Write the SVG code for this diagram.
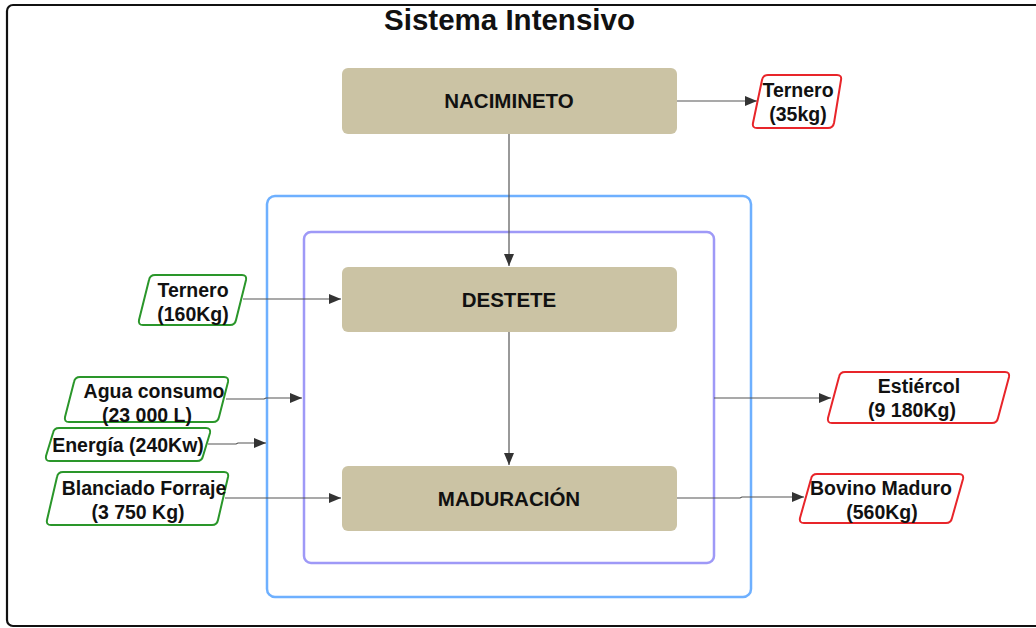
<svg xmlns="http://www.w3.org/2000/svg" width="1036" height="628" viewBox="0 0 1036 628">
<style>
text{font-family:"Liberation Sans",Arial,sans-serif;font-weight:bold;fill:#111;text-anchor:middle}
.proc{fill:#CBC3A4}
.in{fill:#fff;stroke:#2A962A;stroke-width:2;stroke-linejoin:round}
.out{fill:#fff;stroke:#E8252A;stroke-width:2;stroke-linejoin:round}
.lbl{font-size:20.5px}
.pl{font-size:19.5px}
.c{fill:none;stroke:#555;stroke-width:1.2}
</style>
<defs>
<marker id="ah" markerWidth="12" markerHeight="10" refX="12" refY="5" orient="auto" markerUnits="userSpaceOnUse">
<path d="M0,0 L12,5 L0,10 Z" fill="#333"/>
</marker>
</defs>
<rect x="7" y="5" width="1040" height="621" rx="6" fill="#fff" stroke="#111" stroke-width="2.2"/>
<text x="509.5" y="30" style="font-size:29.5px">Sistema Intensivo</text>
<g id="outer-box"><rect x="267" y="196" width="484" height="401" rx="8" fill="none" stroke="#6EB0FF" stroke-width="2.5"/></g>
<g id="inner-box"><rect x="304" y="232" width="410" height="331" rx="7" fill="none" stroke="#9E99F7" stroke-width="2.5"/></g>
<g id="connectors">
<path class="c" d="M509,134 V266" marker-end="url(#ah)"/>
<path class="c" d="M509,332 V465" marker-end="url(#ah)"/>
<path class="c" d="M677,101 H757" marker-end="url(#ah)"/>
<path class="c" d="M243,299 H341" marker-end="url(#ah)"/>
<path class="c" d="M226,399 H264 L266,398 H302" marker-end="url(#ah)"/>
<path class="c" d="M208,444 H236 L238,443 H266" marker-end="url(#ah)"/>
<path class="c" d="M225,498 H341" marker-end="url(#ah)"/>
<path class="c" d="M714,398 H831" marker-end="url(#ah)"/>
<path class="c" d="M677,498 H740 L742,497 H804" marker-end="url(#ah)"/>
</g>
<g id="nacimiento"><rect class="proc" x="342" y="68" width="335" height="66" rx="6"/><text class="lbl" x="509" y="108">NACIMINETO</text></g>
<g id="destete"><rect class="proc" x="342" y="267" width="335" height="65" rx="6"/><text class="lbl" x="509" y="307">DESTETE</text></g>
<g id="maduracion"><rect class="proc" x="342" y="466" width="335" height="65" rx="6"/><text class="lbl" x="509" y="506">MADURACIÓN</text></g>
<g id="ternero-35"><path class="out" d="M768,75 H837 Q842,75 841,80 L834,123 Q833,128 828,128 H757 Q752,128 753,123 L762,80 Q763,75 768,75 Z"/><text class="pl" x="798" y="97">Ternero</text><text class="pl" x="798" y="121">(35kg)</text></g>
<g id="ternero-160"><path class="in" d="M155,275 H242 Q247,275 246,280 L236,320 Q235,325 230,325 H143 Q138,325 139,320 L149,280 Q150,275 155,275 Z"/><text class="pl" x="193" y="297">Ternero</text><text class="pl" x="193" y="321">(160Kg)</text></g>
<g id="agua"><path class="in" d="M80,377 H224 Q229,377 228,382 L219,417 Q218,422 213,422 H69 Q64,422 65,417 L74,382 Q75,377 80,377 Z"/><text class="pl" x="154" y="398">Agua consumo</text><text class="pl" x="147" y="422">(23 000 L)</text></g>
<g id="energia"><path class="in" d="M59,428 H206 Q211,428 210,433 L203,456 Q202,461 197,461 H50 Q45,461 46,456 L53,433 Q54,428 59,428 Z"/><text class="pl" x="128" y="452">Energía (240Kw)</text></g>
<g id="forraje"><path class="in" d="M63,472 H224 Q229,472 228,477 L218,520 Q217,525 212,525 H51 Q46,525 47,520 L57,477 Q58,472 63,472 Z"/><text class="pl" x="144" y="495">Blanciado Forraje</text><text class="pl" x="138" y="519">(3 750 Kg)</text></g>
<g id="estiercol"><path class="out" d="M845,372 H1005 Q1010,372 1009,377 L998,418 Q997,423 992,423 H832 Q827,423 828,418 L839,377 Q840,372 845,372 Z"/><text class="pl" x="919" y="393">Estiércol</text><text class="pl" x="912" y="417">(9 180Kg)</text></g>
<g id="bovino"><path class="out" d="M817,474 H959 Q964,474 963,479 L952,518 Q951,523 946,523 H804 Q799,523 800,518 L811,479 Q812,474 817,474 Z"/><text class="pl" x="881" y="495">Bovino Maduro</text><text class="pl" x="882" y="519">(560Kg)</text></g>
</svg>
